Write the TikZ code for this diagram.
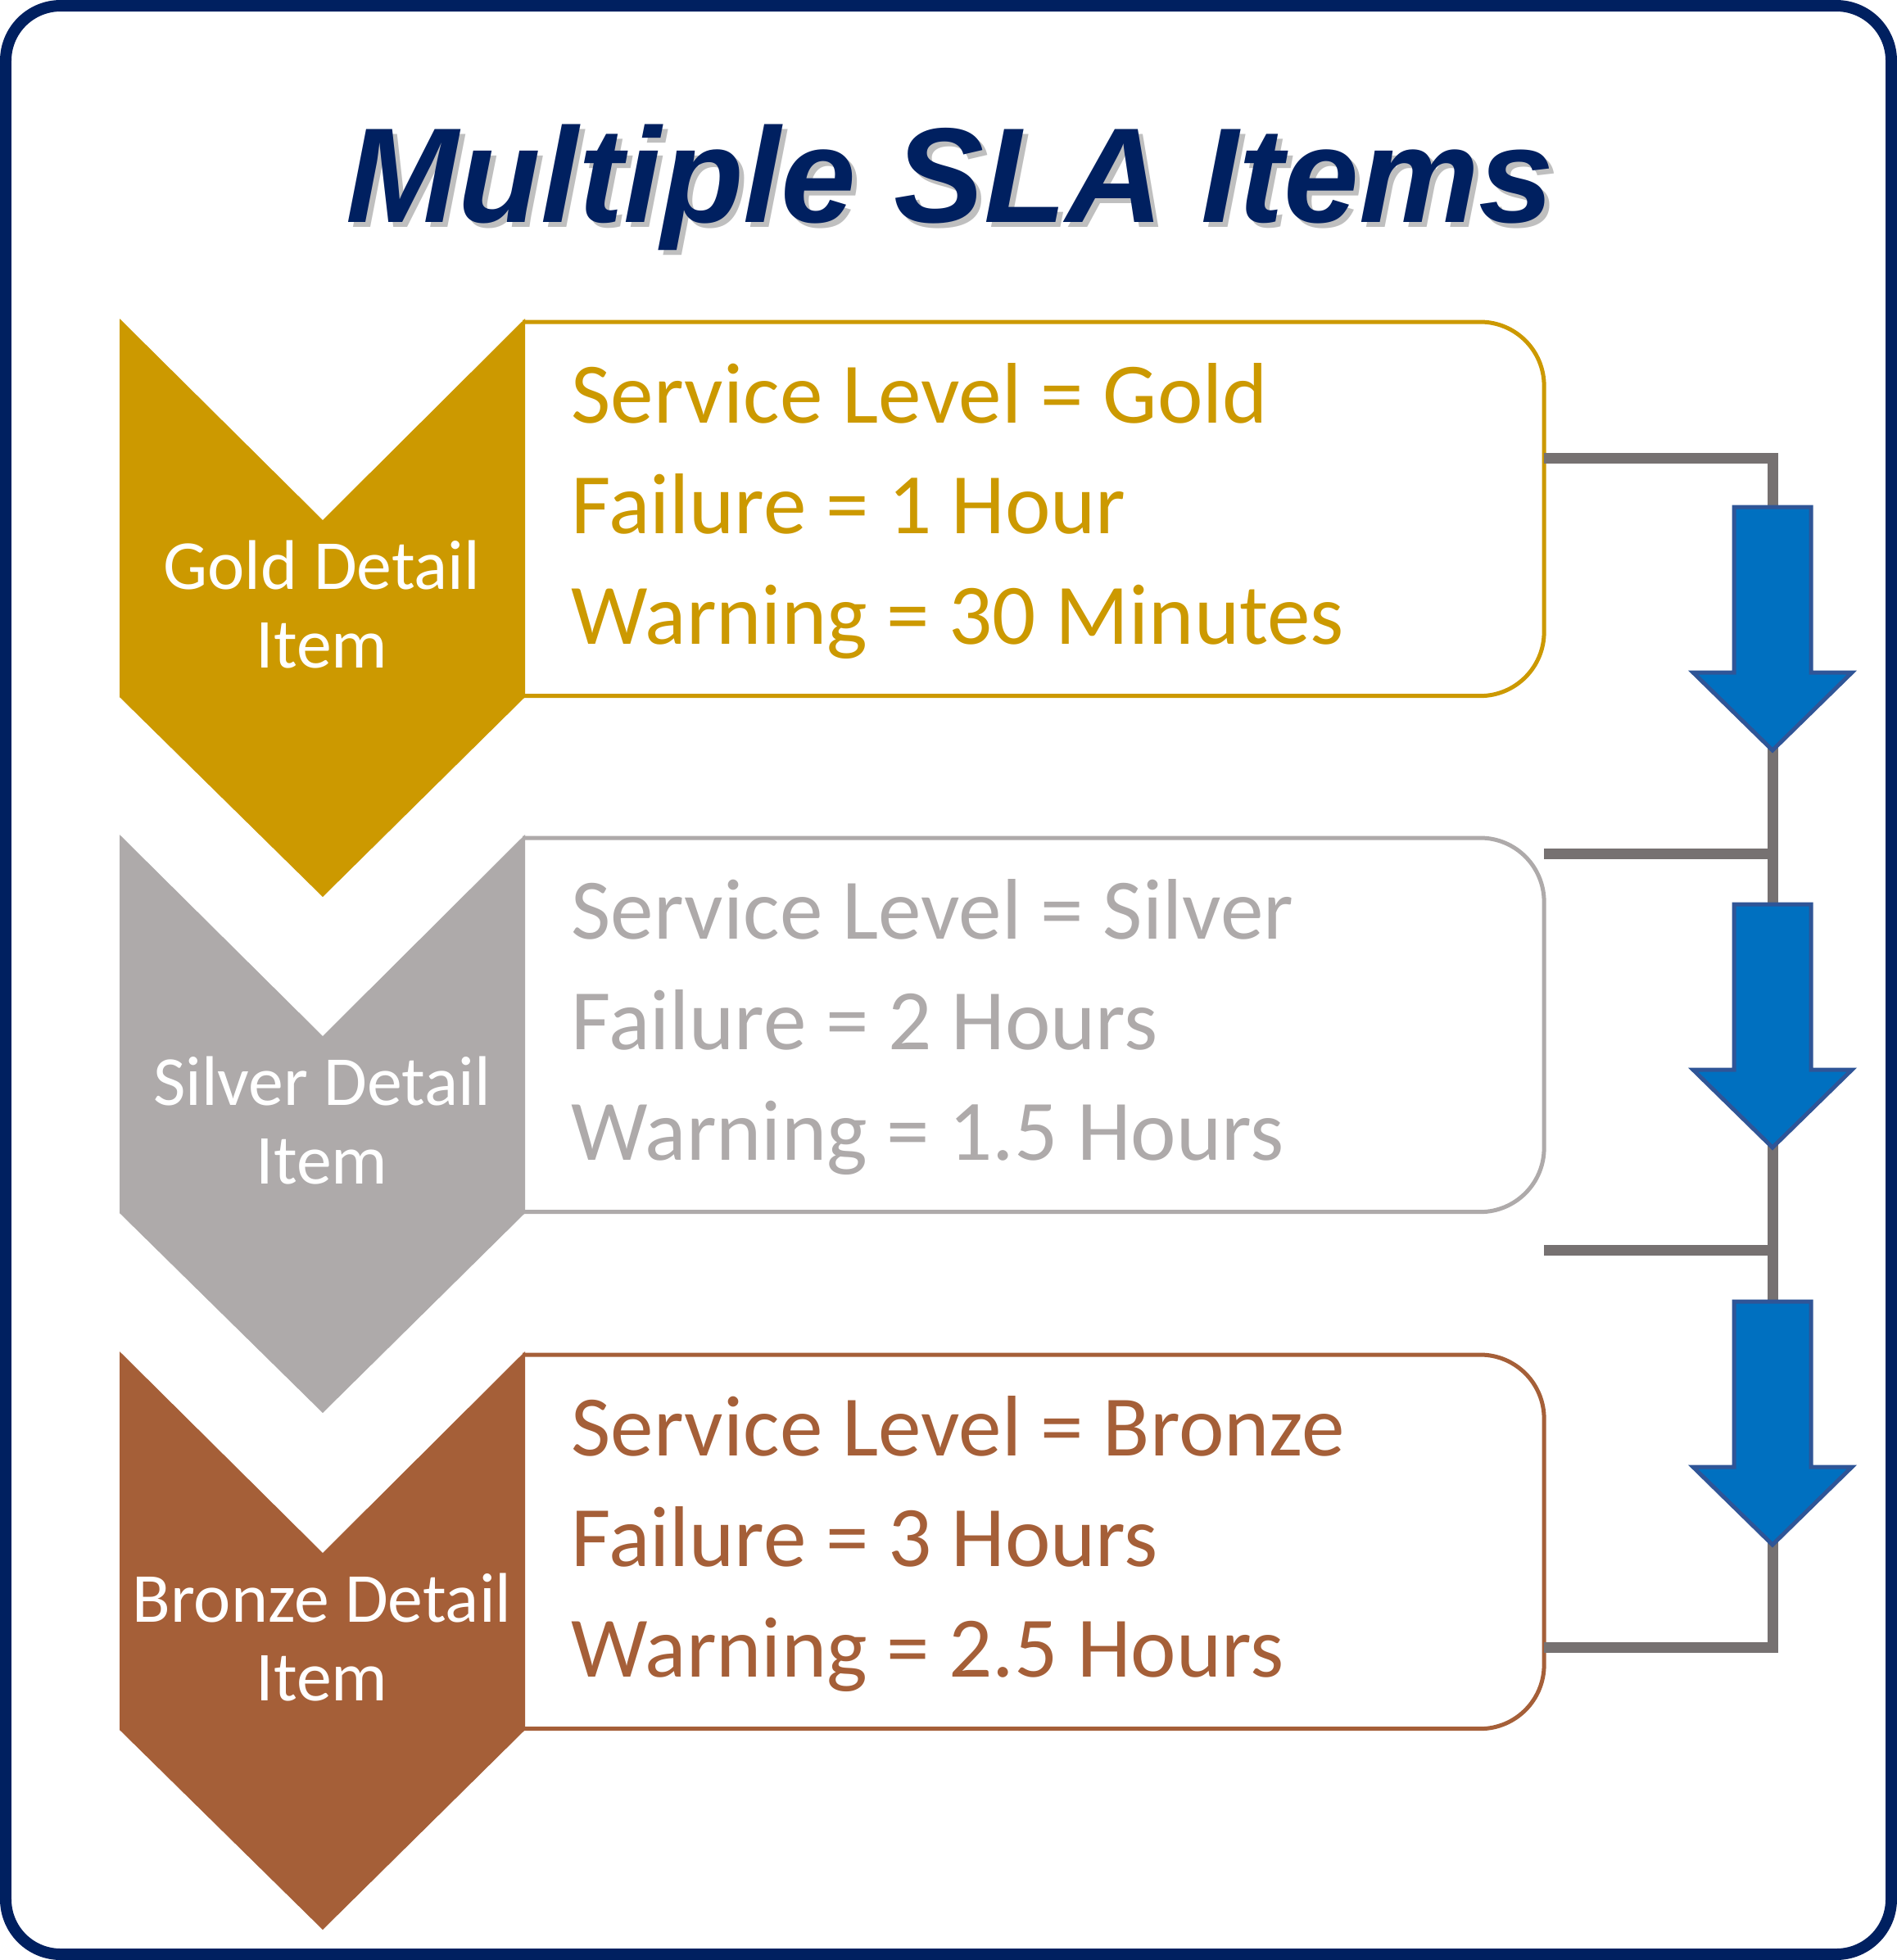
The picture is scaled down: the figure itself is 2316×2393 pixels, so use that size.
\documentclass[tikz,border=0pt]{standalone}
\usepackage{fontspec}
\setmainfont{Carlito}
\newfontfamily\titlefont{Liberation Sans}
\usetikzlibrary{calc}
\definecolor{navy}{HTML}{002060}
\definecolor{goldc}{HTML}{CC9900}
\definecolor{silverc}{HTML}{AEAAAA}
\definecolor{bronzec}{HTML}{A55F38}
\definecolor{linegray}{HTML}{767171}
\definecolor{arrowblue}{HTML}{0070C0}
\definecolor{arrowedge}{HTML}{2F5597}
\begin{document}
\begin{tikzpicture}[x=0.01cm,y=-0.01cm,
  frame/.style={draw=navy,line width=3.98pt,rounded corners=0.67cm},
  titletext/.style={font=\titlefont\bfseries\itshape\fontsize{46.9pt}{50pt}\selectfont,anchor=base,inner sep=0},
  itembox/.style={draw=none,minimum width=12.45cm,minimum height=4.55cm,inner sep=0,anchor=north west},
  boxline/.style={line width=1.42pt,rounded corners=0.78cm,fill=white},
  chevtext/.style={text=white,font=\fontsize{24.4pt}{27.3pt}\selectfont,anchor=base,inner sep=0},
  lvltext/.style={font=\fontsize{29.9pt}{38.4pt}\selectfont,anchor=base west,inner sep=0},
  trunk/.style={draw=linegray,line width=3.7pt},
  blockarrow/.style={fill=arrowblue,draw=arrowedge,line width=1.42pt},
]
\useasboundingbox (0,0) rectangle (2316,2393);
\fill[white] (0,0) rectangle (2316,2393);
\draw[frame] (7,7) rectangle (2309,2386);

% title with shadow
\node[titletext,text=black,opacity=0.25] (titleshadow) at (1166,277) {Multiple SLA Items};
\node[titletext,text=navy] (title) at (1160,271) {Multiple SLA Items};

\foreach \nm/\col/\dy/\lbl/\la/\lb/\lc in {
  gold/goldc/0/Gold/{Service Level = Gold}/{Failure = 1 Hour}/{Warning = 30 Minutes},
  silver/silverc/630/Silver/{Service Level = Silver}/{Failure = 2 Hours}/{Warning = 1.5 Hours},
  bronze/bronzec/1261/Bronze/{Service Level = Bronze}/{Failure = 3 Hours}/{Warning = 2.5 Hours}}{
  \node[itembox] (\nm box) at (638,393+\dy) {};
  \draw[boxline,draw=\col] (\nm box.north west) -- (\nm box.north east) -- (\nm box.south east) -- (\nm box.south west);
  \fill[\col] (146,389+\dy) -- (394,635+\dy) -- (641,389+\dy) -- (641,851+\dy) -- (394,1095+\dy) -- (146,851+\dy) -- cycle;
  \node[chevtext] (\nm chevA) at (393,719+\dy) {\lbl{} Detail};
  \node[chevtext] (\nm chevB) at (393,815+\dy) {Item};
  \node[lvltext,text=\col] (\nm lineA) at (697,516+\dy) {\la};
  \node[lvltext,text=\col] (\nm lineB) at (697,651+\dy) {\lb};
  \node[lvltext,text=\col] (\nm lineC) at (697,786+\dy) {\lc};
}

% connector trunk
\coordinate (tA) at (2164,559);
\coordinate (tB) at (2164,1042);
\coordinate (tC) at (2164,1526);
\coordinate (tD) at (2164,2011);
\draw[trunk] (goldbox.east |- tA) -- (tA) -- (tD) -- (bronzebox.east |- tD);
\draw[trunk] (silverbox.east |- tB) -- (tB);
\draw[trunk] (silverbox.east |- tC) -- (tC);

% block arrows
\foreach \T in {619,1104,1589}{
  \draw[blockarrow] (2117,\T) -- (2211,\T) -- (2211,\T+202) -- (2261,\T+202) -- (2164,\T+297) -- (2067,\T+202) -- (2117,\T+202) -- cycle;
}
\end{tikzpicture}
\end{document}
